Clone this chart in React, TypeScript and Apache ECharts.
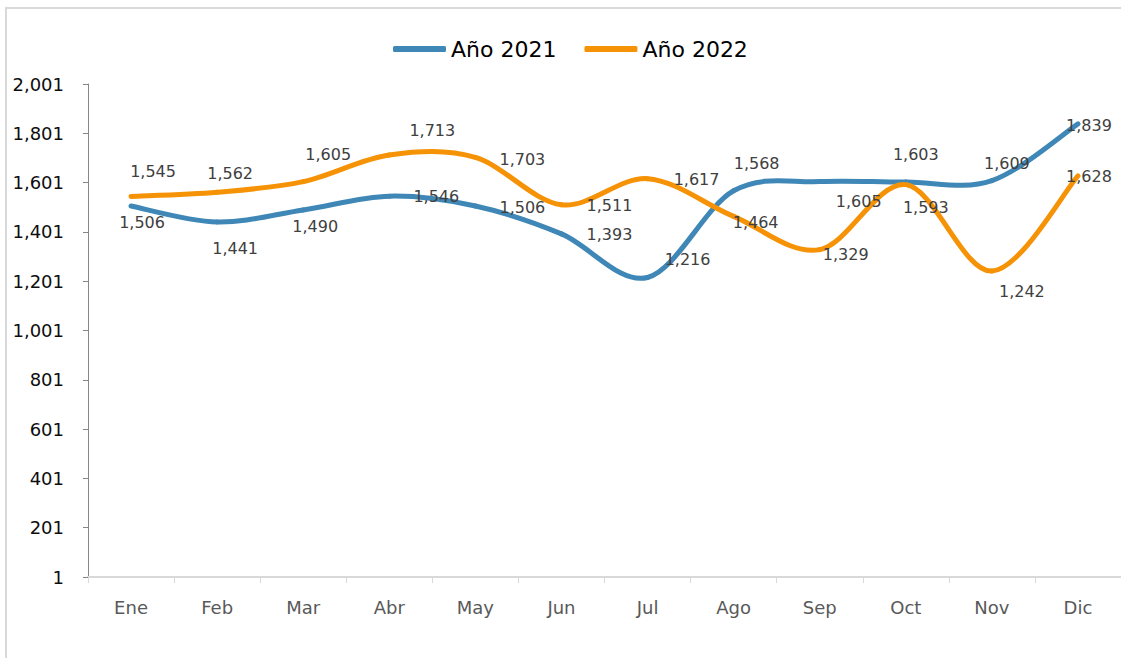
import React, { useEffect, useRef } from "react";
import * as echarts from "echarts";

const months = ["Ene", "Feb", "Mar", "Abr", "May", "Jun", "Jul", "Ago", "Sep", "Oct", "Nov", "Dic"];
const year2021 = [1506, 1441, 1490, 1546, 1506, 1393, 1216, 1568, 1605, 1603, 1609, 1839];
const year2022 = [1545, 1562, 1605, 1713, 1703, 1511, 1617, 1464, 1329, 1593, 1242, 1628];
const seriesNames = ["Año 2021", "Año 2022"];
const seriesColors = ["#3F87B6", "#F59205"];
const yMin = 1;
const yMax = 2001;
const yStep = 200;

// label placement (style only): offset of label centre from its point, in px
const labelShift2021 = [[11, 16], [18, 26], [12, 17], [47, 0], [47, 1], [48, 1], [40, -18], [23, -27], [39, 20], [10, -28], [15, -17], [11, 2]];
const labelShift2022 = [[22, -25], [13, -19], [25, -27], [43, -24], [47, 2], [48, 1], [49, 1], [22, 6], [26, 5], [20, 23], [30, 20], [11, 1]];

const FONT = "DejaVu Sans";
const fmt = (v: number) => v.toLocaleString("en-US");

export default function App() {
  const ref = useRef<HTMLDivElement>(null);
  useEffect(() => {
    if (!ref.current) return;
    const chart = echarts.init(ref.current, null, { renderer: "svg" });

    // Excel-like smoothed line: Catmull-Rom segments (1/6 tension) drawn through the axes' scales
    const curveSeries = (name: string, vals: number[], color: string) => ({
      name,
      type: "custom",
      data: vals.map((v, i) => [i, v]),
      encode: { x: 0, y: 1 },
      itemStyle: { color },
      silent: true,
      z: 2,
      renderItem: (params: any, api: any) => {
        const i = params.dataIndex;
        const n = vals.length;
        if (i >= n - 1) return null;
        const P = (k: number) => {
          const kk = Math.max(0, Math.min(n - 1, k));
          return api.coord([kk, vals[kk]]);
        };
        const p0 = P(i - 1), p1 = P(i), p2 = P(i + 1), p3 = P(i + 2);
        return {
          type: "bezierCurve",
          shape: {
            x1: p1[0], y1: p1[1],
            x2: p2[0], y2: p2[1],
            cpx1: p1[0] + (p2[0] - p0[0]) / 6,
            cpy1: p1[1] + (p2[1] - p0[1]) / 6,
            cpx2: p2[0] - (p3[0] - p1[0]) / 6,
            cpy2: p2[1] - (p3[1] - p1[1]) / 6,
          },
          style: { stroke: color, lineWidth: 5, fill: "none", lineCap: "round" },
        };
      },
    });

    const labelSeries = (name: string, vals: number[], shifts: number[][], color: string) => ({
      name,
      type: "line",
      data: vals.map((v, i) => ({ value: v, label: { offset: shifts[i] } })),
      symbol: "circle",
      symbolSize: 1,
      showSymbol: true,
      itemStyle: { color },
      lineStyle: { color, width: 0, opacity: 0 },
      z: 3,
      label: {
        show: true,
        position: "inside",
        color: "#404040",
        fontFamily: FONT,
        fontSize: 16,
        formatter: (p: any) => fmt(p.value),
      },
      emphasis: { disabled: true },
    });

    chart.setOption({
      animation: false,
      backgroundColor: "#ffffff",
      graphic: [
        {
          type: "rect",
          shape: { x: 6, y: 8, width: 1200, height: 700 },
          style: { fill: "none", stroke: "#D9D9D9", lineWidth: 2 },
          silent: true,
          z: -10,
        },
      ],
      legend: {
        top: 33,
        left: 388,
        itemWidth: 53,
        itemHeight: 6,
        itemGap: 28,
        icon: "roundRect",
        textStyle: { fontFamily: FONT, fontSize: 22, color: "#000000" },
        data: seriesNames.map((nm, k) => ({ name: nm, itemStyle: { color: seriesColors[k] } })),
      },
      grid: { left: 88, top: 84, width: 1038, height: 493, containLabel: false },
      xAxis: {
        type: "category",
        data: months,
        boundaryGap: true,
        axisLine: { show: true, lineStyle: { color: "#D9D9D9", width: 2 } },
        axisTick: { show: true, alignWithLabel: false, length: 6, lineStyle: { color: "#D9D9D9", width: 1 } },
        axisLabel: { color: "#595959", fontFamily: FONT, fontSize: 18, margin: 21 },
        splitLine: { show: false },
      },
      yAxis: {
        type: "value",
        min: yMin,
        max: yMax,
        interval: yStep,
        axisLine: { show: true, lineStyle: { color: "#868686", width: 1 } },
        axisTick: { show: true, length: 5, lineStyle: { color: "#868686" } },
        axisLabel: {
          color: "#0d0d0d",
          fontFamily: FONT,
          fontSize: 18,
          margin: 24,
          formatter: (v: number) => fmt(v),
        },
        splitLine: { show: false },
      },
      series: [
        curveSeries(seriesNames[0], year2021, seriesColors[0]),
        curveSeries(seriesNames[1], year2022, seriesColors[1]),
        labelSeries(seriesNames[0], year2021, labelShift2021, seriesColors[0]),
        labelSeries(seriesNames[1], year2022, labelShift2022, seriesColors[1]),
      ],
    });
    return () => chart.dispose();
  }, []);
  return (
    <div
      ref={ref}
      style={{ position: "absolute", left: 0, top: 0, width: 1121, height: 658, background: "#fff" }}
    />
  );
}
